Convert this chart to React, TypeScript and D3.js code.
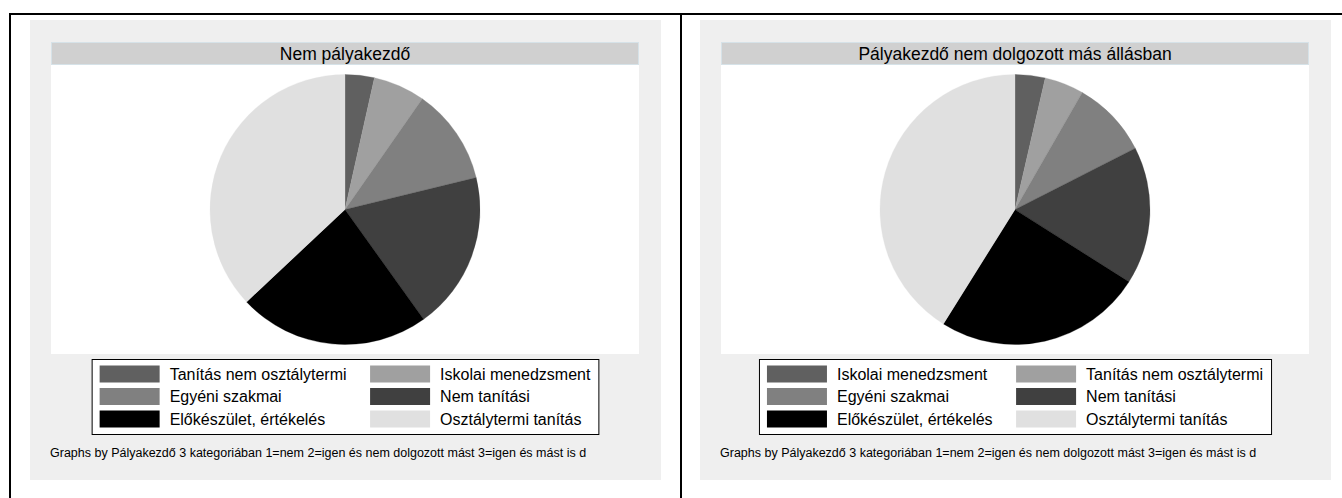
import React from "react";
import * as d3 from "d3";

const panelTitles = ["Nem pályakezdő", "Pályakezdő nem dolgozott más állásban"];

const leftCategories = [
  "Tanítás nem osztálytermi",
  "Iskolai menedzsment",
  "Egyéni szakmai",
  "Nem tanítási",
  "Előkészület, értékelés",
  "Osztálytermi tanítás",
];
const leftValues = [3.5, 6.2, 11.5, 18.9, 22.9, 37.0];

const rightCategories = [
  "Iskolai menedzsment",
  "Tanítás nem osztálytermi",
  "Egyéni szakmai",
  "Nem tanítási",
  "Előkészület, értékelés",
  "Osztálytermi tanítás",
];
const rightValues = [3.6, 4.7, 9.2, 16.5, 24.9, 41.1];

const sliceColors = ["#606060", "#a0a0a0", "#808080", "#404040", "#000000", "#e0e0e0"];

const noteText =
  "Graphs by Pályakezdő 3 kategoriában 1=nem 2=igen és nem dolgozott mást 3=igen és mást is d";

const FONT = "'Liberation Sans', Arial, Helvetica, sans-serif";

let measureCtx: CanvasRenderingContext2D | null = null;
function textWidth(s: string, size: number): number {
  if (!measureCtx) {
    const c = document.createElement("canvas");
    measureCtx = c.getContext("2d");
  }
  if (!measureCtx) return s.length * size * 0.55;
  measureCtx.font = `${size}px ${FONT}`;
  return measureCtx.measureText(s).width;
}

type PanelProps = {
  x0: number; // gray panel left
  title: string;
  categories: string[];
  values: number[];
};

function Panel({ x0, title, categories, values }: PanelProps) {
  const grayW = 631;
  const plotX0 = x0 + 21;
  const plotX1 = x0 + 609;
  const cx = (plotX0 + plotX1) / 2;
  const titleY0 = 42;
  const titleY1 = 65;
  const plotY1 = 354;
  const cy = (titleY1 + plotY1) / 2;
  const r = 135;

  const pie = d3
    .pie<number>()
    .sort(null)
    .value((d) => d)
    .startAngle(0)
    .endAngle(2 * Math.PI);
  const arcs = pie(values);
  const arc = d3.arc<d3.PieArcDatum<number>>().innerRadius(0).outerRadius(r);

  // legend layout
  const fs = 16;
  const pad = 8;
  const sw = 60;
  const gapT = 10;
  const colGap = 23.5;
  const col1 = categories.filter((_, i) => i % 2 === 0);
  const col2 = categories.filter((_, i) => i % 2 === 1);
  const w1 = d3.max(col1, (s) => textWidth(s, fs)) || 0;
  const w2 = d3.max(col2, (s) => textWidth(s, fs)) || 0;
  const legW = pad + sw + gapT + w1 + colGap + sw + gapT + w2 + pad;
  const legX = cx - legW / 2;
  const legY0 = 359;
  const legY1 = 434;
  const rowCenters = [374, 396.5, 419];
  const colX = [legX + pad, legX + pad + sw + gapT + w1 + colGap];

  return (
    <g>
      <rect x={x0} y={20} width={grayW} height={460} fill="#efefef" />
      <rect x={plotX0} y={titleY1} width={plotX1 - plotX0} height={plotY1 - titleY1} fill="#ffffff" />
      <rect
        x={plotX0 + 0.5}
        y={titleY0 + 0.5}
        width={plotX1 - plotX0 - 1}
        height={titleY1 - titleY0 - 1}
        fill="#d0d0d0"
        stroke="#d6e2e8"
        strokeWidth={1}
      />
      <text
        x={cx}
        y={titleY0 + 17.5}
        textAnchor="middle"
        fontFamily={FONT}
        fontSize={17.5}
        fill="#000"
      >
        {title}
      </text>
      <g transform={`translate(${cx},${cy})`}>
        {arcs.map((a, i) => (
          <path key={i} d={arc(a) || ""} fill={sliceColors[i]} stroke={sliceColors[i]} strokeWidth={0.3} />
        ))}
      </g>
      <rect
        x={legX + 0.5}
        y={legY0 + 0.5}
        width={legW}
        height={legY1 - legY0}
        fill="#ffffff"
        stroke="#000"
        strokeWidth={1}
      />
      {categories.map((c, i) => {
        const col = i % 2;
        const row = Math.floor(i / 2);
        const yc = rowCenters[row];
        return (
          <g key={c}>
            <rect x={colX[col]} y={yc - 8.5} width={sw} height={17} fill={sliceColors[i]} />
            <text
              x={colX[col] + sw + gapT}
              y={yc + 5.8}
              fontFamily={FONT}
              fontSize={fs}
              fill="#000"
            >
              {c}
            </text>
          </g>
        );
      })}
      <text x={x0 + 20} y={457} fontFamily={FONT} fontSize={12.5} fill="#000">
        {noteText}
      </text>
    </g>
  );
}

export default function App() {
  return (
    <svg
      width={1342}
      height={498}
      style={{ position: "absolute", left: 0, top: 0, display: "block" }}
    >
      <rect x={0} y={0} width={1342} height={498} fill="#ffffff" />
      <Panel x0={30} title={panelTitles[0]} categories={leftCategories} values={leftValues} />
      <Panel x0={700} title={panelTitles[1]} categories={rightCategories} values={rightValues} />
      <line x1={9} y1={14} x2={1342} y2={14} stroke="#000" strokeWidth={2} />
      <line x1={10} y1={13} x2={10} y2={498} stroke="#000" strokeWidth={2} />
      <line x1={681} y1={13} x2={681} y2={498} stroke="#000" strokeWidth={2} />
    </svg>
  );
}
